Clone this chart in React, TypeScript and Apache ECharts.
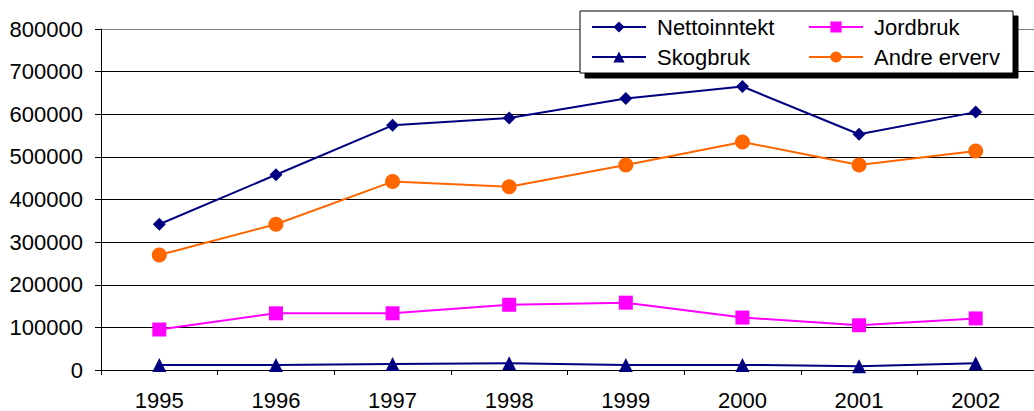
import React, { useEffect, useRef } from "react";
import * as echarts from "echarts";

const years = ["1995", "1996", "1997", "1998", "1999", "2000", "2001", "2002"];
const nettoinntekt = [342000, 458000, 574000, 591000, 637000, 665000, 553000, 605000];
const jordbruk = [95000, 133000, 133000, 153000, 158000, 123000, 105000, 121000];
const skogbruk = [12000, 12000, 14000, 16000, 12000, 12000, 9000, 16000];
const andreErverv = [270000, 342000, 442000, 430000, 481000, 535000, 481000, 514000];

const FONT = "'Liberation Sans', Arial, sans-serif";

export default function App() {
  const ref = useRef<HTMLDivElement>(null);
  useEffect(() => {
    const chart = echarts.init(ref.current!, null, { renderer: "svg" });
    const legendCommon = {
      orient: "vertical",
      top: 16,
      itemWidth: 54,
      itemHeight: 14,
      itemGap: 8,
      padding: 0,
      textStyle: { fontFamily: FONT, fontSize: 22, color: "#000", lineHeight: 22, padding: [0, 0, 0, 6] },
    };
    chart.setOption({
      animation: false,
      backgroundColor: "#fff",
      grid: { left: 101, top: 29, bottom: 38, right: -14, containLabel: false },
      graphic: [
        {
          type: "rect",
          shape: { x: 580, y: 11, width: 433, height: 62 },
          style: { fill: "#fff", stroke: "#000", lineWidth: 1, shadowColor: "#000", shadowOffsetX: 5, shadowOffsetY: 5, shadowBlur: 0 },
          z: 5,
        },
      ],
      legend: [
        { ...legendCommon, left: 591, data: ["Nettoinntekt", "Skogbruk"], z: 10 },
        { ...legendCommon, left: 808, data: ["Jordbruk", "Andre erverv"], z: 10 },
      ],
      xAxis: {
        type: "category",
        data: years,
        boundaryGap: true,
        axisLine: { lineStyle: { color: "#000", width: 1 } },
        axisTick: { show: true, length: 5, lineStyle: { color: "#000" } },
        axisLabel: { fontFamily: FONT, fontSize: 22, color: "#000", margin: 19 },
        splitLine: { show: false },
      },
      yAxis: {
        type: "value",
        min: 0,
        max: 800000,
        interval: 100000,
        axisLine: { show: true, lineStyle: { color: "#000", width: 1 } },
        axisTick: { show: true, length: 6, lineStyle: { color: "#000" } },
        axisLabel: { fontFamily: FONT, fontSize: 22, color: "#000", margin: 18, formatter: (v: number) => String(v) },
        splitLine: { show: true, lineStyle: { color: ["#000", "#000", "#000", "#000", "#000", "#000", "#000", "#000", "#808080"], width: 1 } },
      },
      series: [
        {
          name: "Nettoinntekt",
          type: "line",
          data: nettoinntekt,
          symbol: "diamond",
          symbolSize: 13,
          itemStyle: { color: "#000080" },
          lineStyle: { color: "#000080", width: 2 },
          z: 4,
        },
        {
          name: "Jordbruk",
          type: "line",
          data: jordbruk,
          symbol: "rect",
          symbolSize: 14,
          itemStyle: { color: "#FF00FF" },
          lineStyle: { color: "#FF00FF", width: 2 },
          z: 3,
        },
        {
          name: "Skogbruk",
          type: "line",
          data: skogbruk,
          symbol: "triangle",
          symbolSize: 14,
          itemStyle: { color: "#000080" },
          lineStyle: { color: "#000080", width: 2 },
          z: 3,
        },
        {
          name: "Andre erverv",
          type: "line",
          data: andreErverv,
          symbol: "circle",
          symbolSize: 15,
          itemStyle: { color: "#FF6600" },
          lineStyle: { color: "#FF6600", width: 2 },
          z: 3,
        },
      ],
    });
    return () => chart.dispose();
  }, []);
  return <div ref={ref} style={{ position: "absolute", left: 0, top: 0, width: 1034, height: 411 }} />;
}
